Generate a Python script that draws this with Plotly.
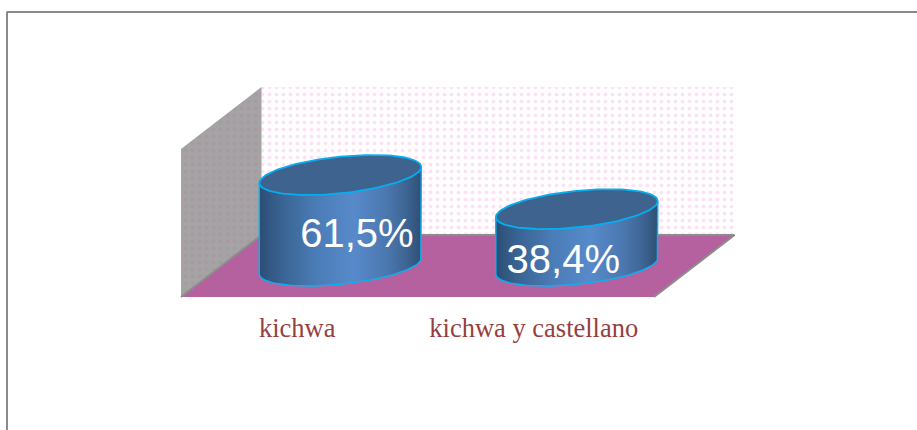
import numpy as np
import plotly.graph_objects as go

categories = ["kichwa", "kichwa y castellano"]
values = [61.5, 38.4]
value_labels = ["61,5%", "38,4%"]

W, H = 917, 430
PX_X = 236.5      # pixels per category
PX_Y = 1.48       # pixels per percent
Y0_PX = 297.0     # pixel of value 0
X0_PX = 181 + 0.5 * PX_X   # pixel of category position 0

DEPTH_X = 80.5 / PX_X
DEPTH_Y = 62 / PX_Y
Y_MAX = 100.0
RX = 81 / PX_X
RY = 18.3 / PX_Y
SHEAR = (8 / PX_Y) / RX
CYL_SHIFT = 0.8 / PX_X
LABEL_DX = [0.07, -0.057]
LABEL_Y = [40.4, 22.8]

xr = [-X0_PX / PX_X, (W - X0_PX) / PX_X]
yr = [-(H - Y0_PX) / PX_Y, Y0_PX / PX_Y]
xl, xh = -0.5, len(categories) - 0.5

fig = go.Figure()

def poly(x, y, **kw):
    fig.add_trace(go.Scatter(x=list(x), y=list(y), mode="lines", fill="toself",
                             hoverinfo="skip", showlegend=False, **kw))

# back wall
poly([xl + DEPTH_X, xh + DEPTH_X, xh + DEPTH_X, xl + DEPTH_X],
     [DEPTH_Y, DEPTH_Y, Y_MAX + DEPTH_Y, Y_MAX + DEPTH_Y],
     line=dict(width=0, color="rgba(0,0,0,0)"), fillcolor="white",
     fillpattern=dict(shape=".", fgcolor="#fac6ea", bgcolor="white", size=7, solidity=0.25))
# side wall
poly([xl, xl + DEPTH_X, xl + DEPTH_X, xl],
     [0, DEPTH_Y, Y_MAX + DEPTH_Y, Y_MAX],
     line=dict(width=0, color="rgba(0,0,0,0)"), fillcolor="#a6a6a6",
     fillpattern=dict(shape=".", fgcolor="#b08ca6", bgcolor="#a4a4a4", size=7, solidity=0.25))
# floor
poly([xl, xl + DEPTH_X, xh + DEPTH_X, xh],
     [0, DEPTH_Y, DEPTH_Y, 0],
     line=dict(width=2, color="#8c8c8c"), fillcolor="#b5619f")

# cylinders, standing half way into the depth
GRAD = [[0, "#2c4d74"], [0.12, "#38618f"], [0.35, "#4a7cb6"], [0.58, "#588acb"],
        [0.8, "#4a76ad"], [0.92, "#3c628f"], [1, "#2e4e74"]]
t = np.linspace(0, 2 * np.pi, 121)
t_low = np.linspace(0, np.pi, 61)
for i, v in enumerate(values):
    cx = i + DEPTH_X / 2 + CYL_SHIFT
    base = DEPTH_Y / 2
    top = base + v
    # body: right edge down, lower half of base ellipse, left edge up
    bx = cx + RX * np.cos(t_low)
    by = base + SHEAR * RX * np.cos(t_low) - RY * np.sin(t_low)
    body_x = np.r_[cx + RX, bx, cx - RX, cx + RX]
    body_y = np.r_[top + SHEAR * RX, by, top - SHEAR * RX, top + SHEAR * RX]
    poly(body_x, body_y, line=dict(width=1.5, color="#0cb0ee"), fillcolor="#4a7cb6",
         fillgradient=dict(type="horizontal", colorscale=GRAD))
    # cap
    ex = cx + RX * np.cos(t)
    ey = top + SHEAR * RX * np.cos(t) + RY * np.sin(t)
    poly(ex, ey, line=dict(width=1.8, color="#05aeee"), fillcolor="#3e638f")
    fig.add_trace(go.Scatter(x=[cx + LABEL_DX[i]], y=[LABEL_Y[i]], mode="text",
                             text=[value_labels[i]], textposition="middle center",
                             textfont=dict(family="Liberation Sans", size=40, color="white"),
                             hoverinfo="skip", showlegend=False))

fig.add_shape(type="line", xref="paper", yref="paper", x0=6.5 / W, x1=1, y0=1 - 12 / H, y1=1 - 12 / H,
              line=dict(color="#8a8a8a", width=2))
fig.add_shape(type="line", xref="paper", yref="paper", x0=7 / W, x1=7 / W, y0=0, y1=1 - 12 / H,
              line=dict(color="#8a8a8a", width=2))

fig.update_layout(
    width=W, height=H, margin=dict(l=0, r=0, t=0, b=0), autosize=False,
    paper_bgcolor="white", plot_bgcolor="white", showlegend=False,
    xaxis=dict(range=xr, domain=[0, 1], anchor="free", position=1 - Y0_PX / H,
               tickmode="array", tickvals=list(range(len(categories))), ticktext=categories,
               ticks="", showgrid=False, zeroline=False, showline=False,
               ticklabelstandoff=12, ticklabelshift=-2,
               tickfont=dict(family="Liberation Serif", size=26.5, color="#973f3e")),
    yaxis=dict(range=yr, domain=[0, 1], visible=False, showgrid=False, zeroline=False),
)
fig.write_html("out.html", include_plotlyjs=True,
               config={"displayModeBar": False},
               post_script="document.body.style.margin='0';document.body.style.overflow='hidden';")
